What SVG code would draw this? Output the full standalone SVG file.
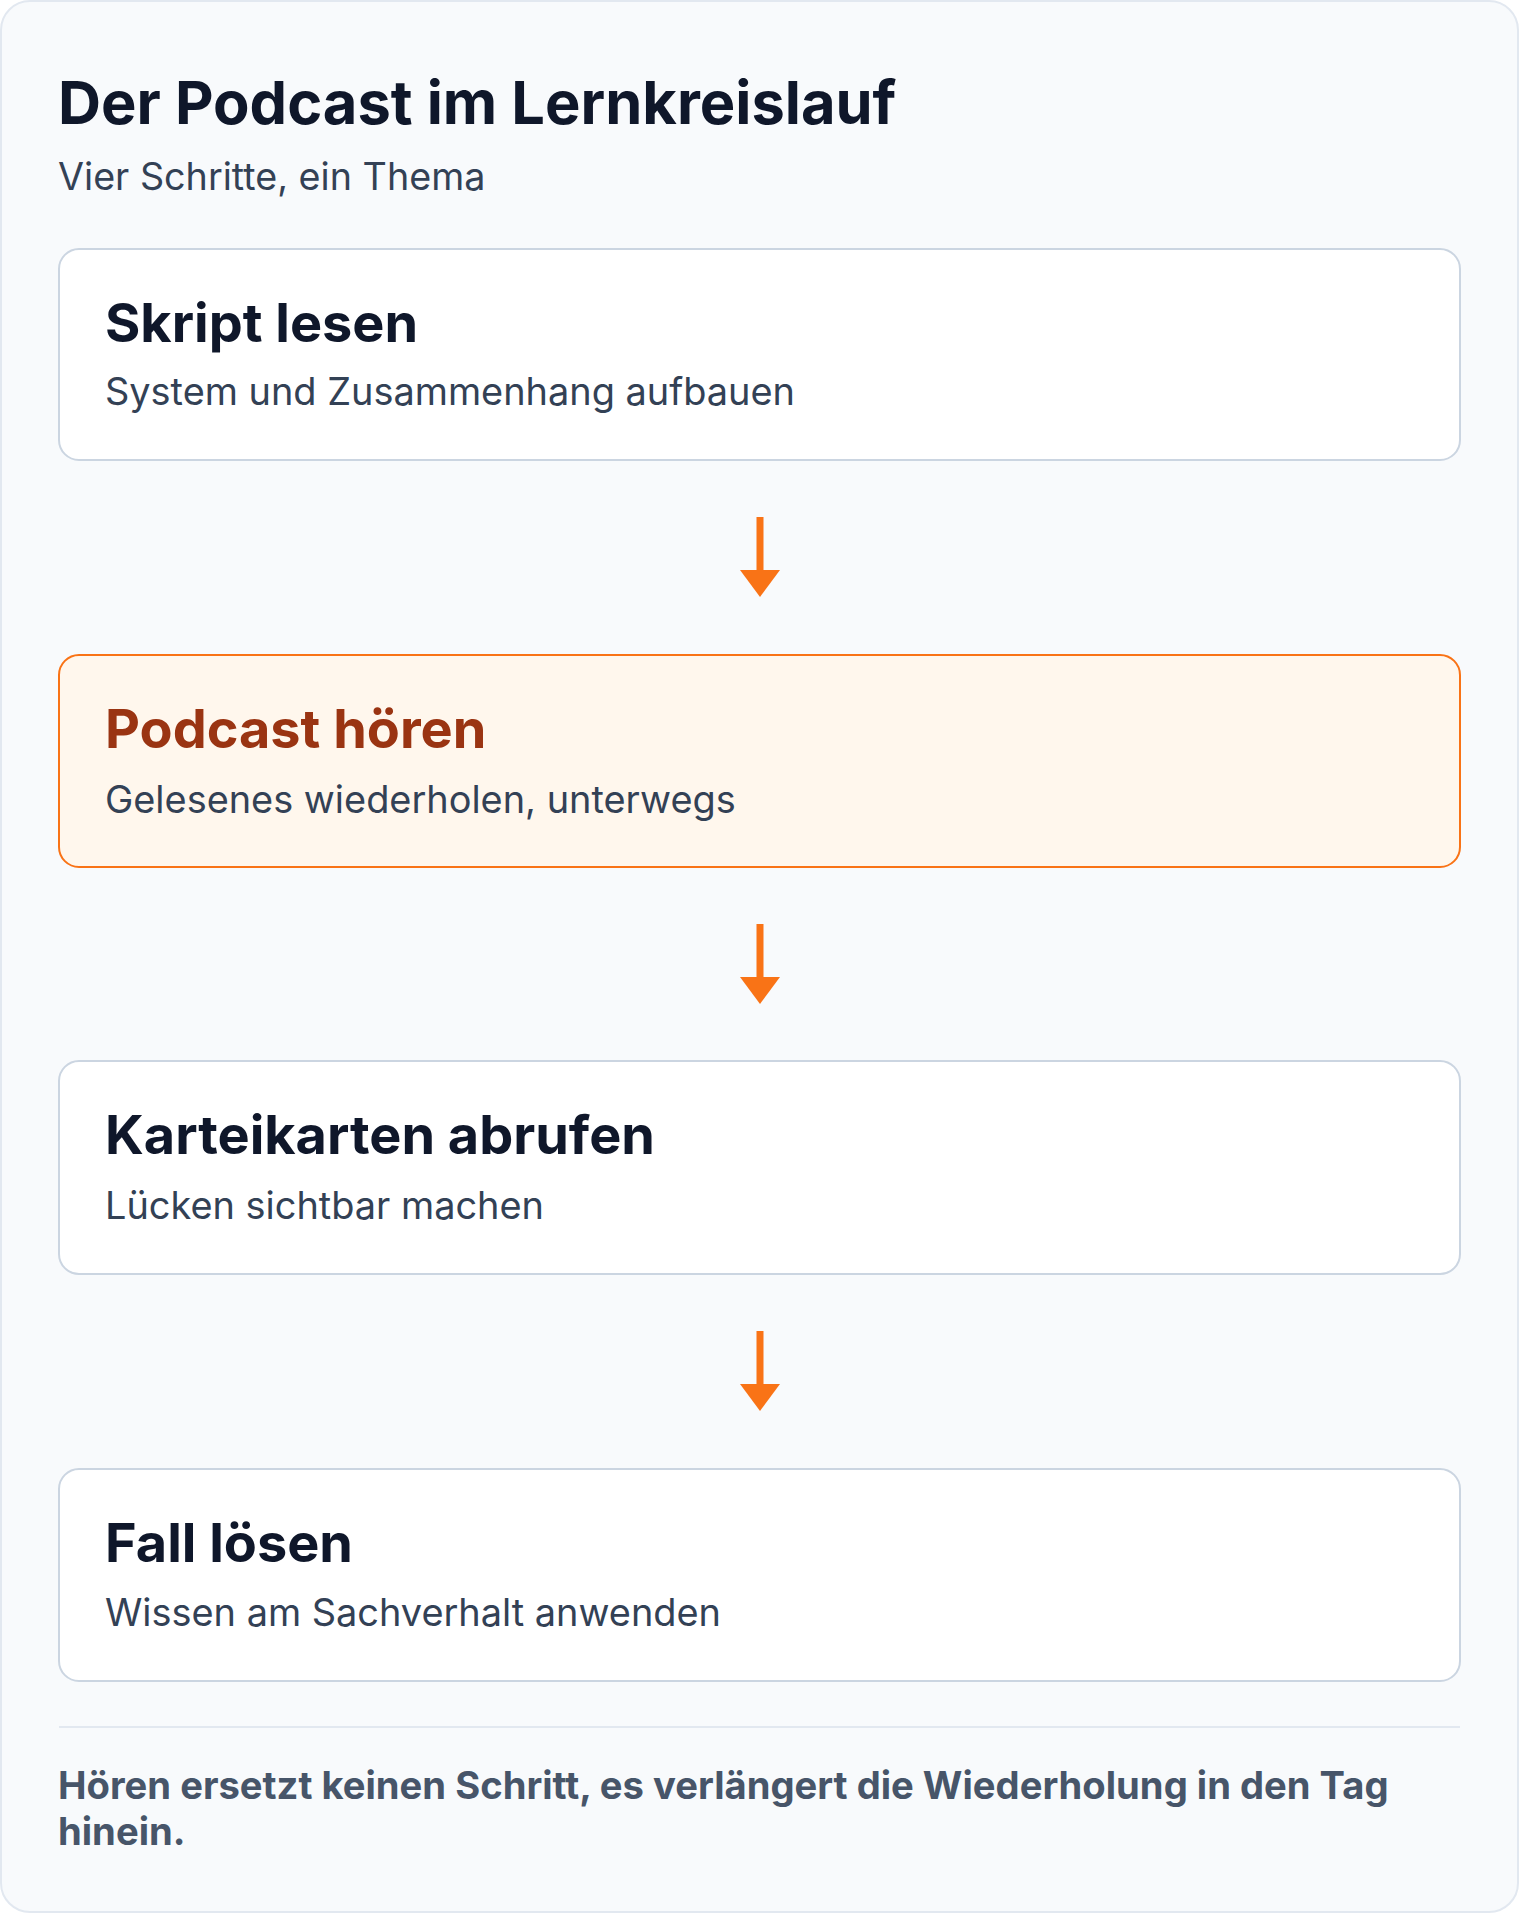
<svg xmlns="http://www.w3.org/2000/svg" width="1520" height="1916" viewBox="0 0 1520 1916">
  <defs>
    <style>
      .card { fill: #f8fafc; stroke: #e2e8f0; stroke-width: 2; }
      .box { fill: #ffffff; stroke: #cbd5e1; stroke-width: 2; }
      .box-hl { fill: #fff7ed; stroke: #f97316; stroke-width: 2; }
      .h1 { font-family: Inter, "Liberation Sans", sans-serif; font-weight: 700; font-size: 59.6px; fill: #0f172a; }
      .sub { font-family: Inter, "Liberation Sans", sans-serif; font-weight: 400; font-size: 37.7px; fill: #334155; }
      .st { font-family: Inter, "Liberation Sans", sans-serif; font-weight: 700; font-size: 54px; fill: #0f172a; }
      .st-hl { fill: #9a3412; }
      .sd { font-family: Inter, "Liberation Sans", sans-serif; font-weight: 400; font-size: 37.9px; fill: #334155; }
      .foot { font-family: Inter, "Liberation Sans", sans-serif; font-weight: 700; font-size: 38.2px; fill: #475569; }
      .edge { stroke: #f97316; stroke-width: 7; fill: none; }
      .divider { stroke: #e2e8f0; stroke-width: 2; }
    </style>
    <marker id="arrow" viewBox="0 0 27 40" refX="0" refY="20" markerWidth="27" markerHeight="40" markerUnits="userSpaceOnUse" orient="auto">
      <path d="M0,0 L27,20 L0,40 Z" fill="#f97316"/>
    </marker>
  </defs>

  <rect class="card" x="1" y="1" width="1517" height="1911" rx="29"/>

  <text class="h1" x="58" y="124">Der Podcast im Lernkreislauf</text>
  <text class="sub" x="58" y="190">Vier Schritte, ein Thema</text>

  <g id="node-skript">
    <rect class="box" x="59" y="249" width="1401" height="211" rx="20"/>
    <text class="st" x="105" y="342">Skript lesen</text>
    <text class="sd" x="105" y="405">System und Zusammenhang aufbauen</text>
  </g>

  <g id="node-podcast">
    <rect class="box-hl" x="59" y="655" width="1401" height="212" rx="20"/>
    <text class="st st-hl" x="105" y="748">Podcast hören</text>
    <text class="sd" x="105" y="813">Gelesenes wiederholen, unterwegs</text>
  </g>

  <g id="node-karteikarten">
    <rect class="box" x="59" y="1061" width="1401" height="213" rx="20"/>
    <text class="st" x="105" y="1154">Karteikarten abrufen</text>
    <text class="sd" x="105" y="1219">Lücken sichtbar machen</text>
  </g>

  <g id="node-fall">
    <rect class="box" x="59" y="1469" width="1401" height="212" rx="20"/>
    <text class="st" x="105" y="1562">Fall lösen</text>
    <text class="sd" x="105" y="1626">Wissen am Sachverhalt anwenden</text>
  </g>

  <g id="connectors">
    <line class="edge" x1="760" y1="517" x2="760" y2="570" marker-end="url(#arrow)"/>
    <line class="edge" x1="760" y1="924" x2="760" y2="977" marker-end="url(#arrow)"/>
    <line class="edge" x1="760" y1="1331" x2="760" y2="1384" marker-end="url(#arrow)"/>
  </g>

  <line class="divider" x1="59" y1="1727" x2="1460" y2="1727"/>

  <text class="foot" x="58" y="1799">Hören ersetzt keinen Schritt, es verlängert die Wiederholung in den Tag</text>
  <text class="foot" x="58" y="1845">hinein.</text>
</svg>
